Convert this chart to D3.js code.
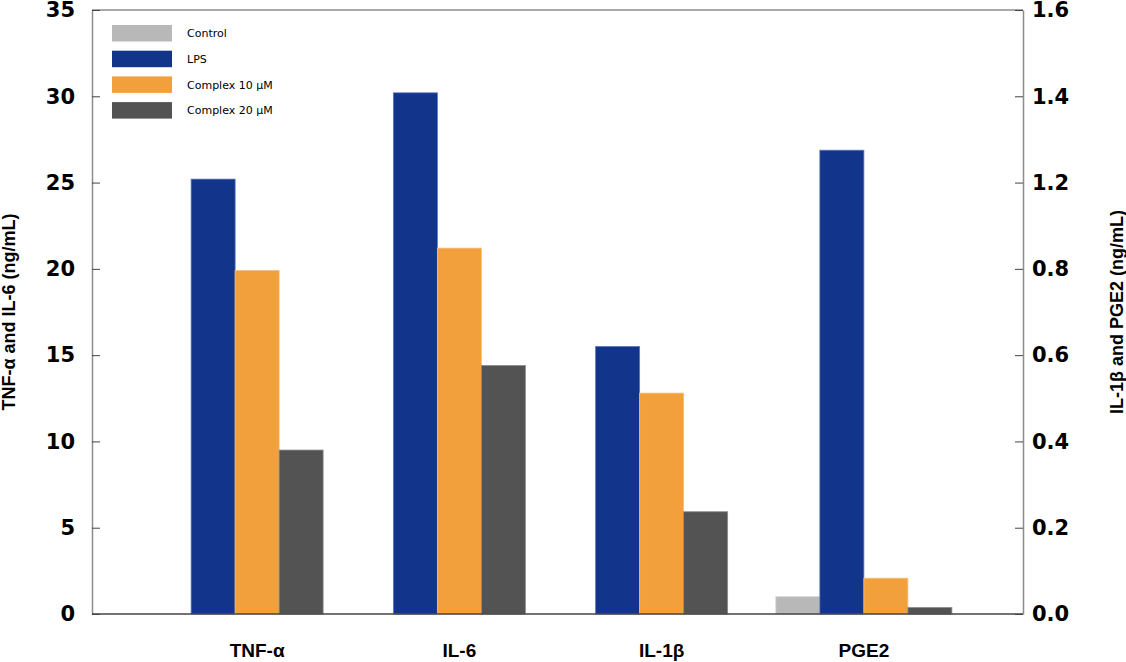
<!DOCTYPE html>
<html>
<head>
<meta charset="utf-8">
<script src="https://cdn.jsdelivr.net/npm/d3@7"></script>
<style>
  body { margin: 0; background: #fff; }
  .tick text { font-family: "DejaVu Sans", sans-serif; font-weight: bold; font-size: 21px; fill: #000; }
  .tick line { stroke: #444; }
  .title { font-family: "Liberation Sans", Arial, sans-serif; font-weight: bold; font-size: 18px; }
  .cat { font-family: "Liberation Sans", Arial, sans-serif; font-weight: bold; font-size: 19px; }
  .legend text { font-family: "DejaVu Sans", sans-serif; font-size: 11px; font-weight: 500; }
</style>
</head>
<body>
<div id="chart"></div>
<script>
// data
var categories = ["TNF-α", "IL-6", "IL-1β", "PGE2"];
var categoryAxis = ["left", "left", "right", "right"];
var series = ["Control", "LPS", "Complex 10 μM", "Complex 20 μM"];
var control   = [0, 0, 0, 0.04];
var lps       = [25.2, 30.2, 0.62, 1.075];
var complex10 = [19.9, 21.2, 0.512, 0.083];
var complex20 = [9.5, 14.4, 0.237, 0.015];
var leftDomain = [0, 35];
var rightDomain = [0, 1.4];
// the right axis of the original skips 1.0
var rightTickLabels = ["0.0", "0.2", "0.4", "0.6", "0.8", "1.2", "1.4", "1.6"];

var colors = ["#b8b8b8", "#12358b", "#f2a03c", "#535353"];
var strokes = ["#d0d0d0", "#5a74b8", "#f6bd78", "#8a8a8a"];

var width = 1126, height = 662;
var plot = { left: 92, right: 1023, top: 10, bottom: 614 };

var svg = d3.select("#chart").append("svg")
    .attr("width", width)
    .attr("height", height);

//////////////////////// scales ////////////////////////

var x = d3.scaleBand()
    .domain(categories)
    .range([156, 965]);

var yLeft = d3.scaleLinear()
    .domain(leftDomain)
    .range([plot.bottom, plot.top]);

var yRight = d3.scaleLinear()
    .domain(rightDomain)
    .range([plot.bottom, plot.top]);

var barW = 44;
var values = [control, lps, complex10, complex20];

//////////////////////// bars ////////////////////////

var bars = [];
categories.forEach(function(c, ci) {
  var present = series.filter(function(s, si) { return values[si][ci] > 0; });
  var center = x(c) + x.bandwidth() / 2;
  var inner = d3.scaleBand()
      .domain(present)
      .range([center - present.length * barW / 2, center + present.length * barW / 2]);
  var y = categoryAxis[ci] === "left" ? yLeft : yRight;
  present.forEach(function(s) {
    var si = series.indexOf(s);
    bars.push({ x: inner(s), w: inner.bandwidth(), y: y(values[si][ci]), si: si });
  });
});

svg.append("g").selectAll("rect")
    .data(bars)
    .enter().append("rect")
    .attr("x", function(d) { return d.x; })
    .attr("y", function(d) { return d.y; })
    .attr("width", function(d) { return d.w; })
    .attr("height", function(d) { return plot.bottom - d.y; })
    .style("fill", function(d) { return colors[d.si]; })
    .style("stroke", function(d) { return strokes[d.si]; })
    .style("stroke-width", 0.8);

//////////////////////// frame and axes ////////////////////////

svg.append("line")
    .attr("x1", plot.left).attr("x2", plot.right)
    .attr("y1", plot.top).attr("y2", plot.top)
    .style("stroke", "#8c8c8c").style("stroke-width", 1.5);

var axL = svg.append("g")
    .attr("transform", "translate(" + plot.left + ",0)")
    .call(d3.axisLeft(yLeft).ticks(7).tickSizeInner(-8).tickSizeOuter(0).tickPadding(17));
axL.select(".domain").style("stroke", "#8c8c8c").style("stroke-width", 1.5);

var axR = svg.append("g")
    .attr("transform", "translate(" + plot.right + ",0)")
    .call(d3.axisRight(yRight).ticks(7).tickSizeInner(-8).tickSizeOuter(0).tickPadding(9)
      .tickFormat(function(d, i) { return rightTickLabels[i]; }));
axR.select(".domain").style("stroke", "#8c8c8c").style("stroke-width", 1.5);

svg.append("line")
    .attr("x1", plot.left).attr("x2", plot.right)
    .attr("y1", plot.bottom).attr("y2", plot.bottom)
    .style("stroke", "#444").style("stroke-width", 1.5);

// category labels
svg.append("g").selectAll("text")
    .data(categories)
    .enter().append("text")
    .attr("class", "cat")
    .attr("x", function(d) { return x(d) + x.bandwidth() / 2; })
    .attr("y", 657)
    .attr("text-anchor", "middle")
    .text(function(d) { return d; });

// axis titles
svg.append("text")
    .attr("class", "title")
    .attr("transform", "translate(15," + (plot.top + plot.bottom) / 2 + ") rotate(-90)")
    .attr("text-anchor", "middle")
    .text("TNF-α and IL-6 (ng/mL)");

svg.append("text")
    .attr("class", "title")
    .attr("transform", "translate(1123," + (plot.top + plot.bottom) / 2 + ") rotate(-90)")
    .attr("text-anchor", "middle")
    .text("IL-1β and PGE2 (ng/mL)");

//////////////////////// legend ////////////////////////

var legend = svg.append("g").attr("class", "legend")
    .attr("transform", "translate(112,25)");

var item = legend.selectAll("g")
    .data(series)
    .enter().append("g")
    .attr("transform", function(d, i) { return "translate(0," + i * 25.7 + ")"; });

item.append("rect")
    .attr("width", 60).attr("height", 16.5)
    .style("fill", function(d, i) { return colors[i]; });

item.append("text")
    .attr("x", 75).attr("y", 8.5)
    .attr("dy", "0.35em")
    .text(function(d) { return d; });
</script>
</body>
</html>
